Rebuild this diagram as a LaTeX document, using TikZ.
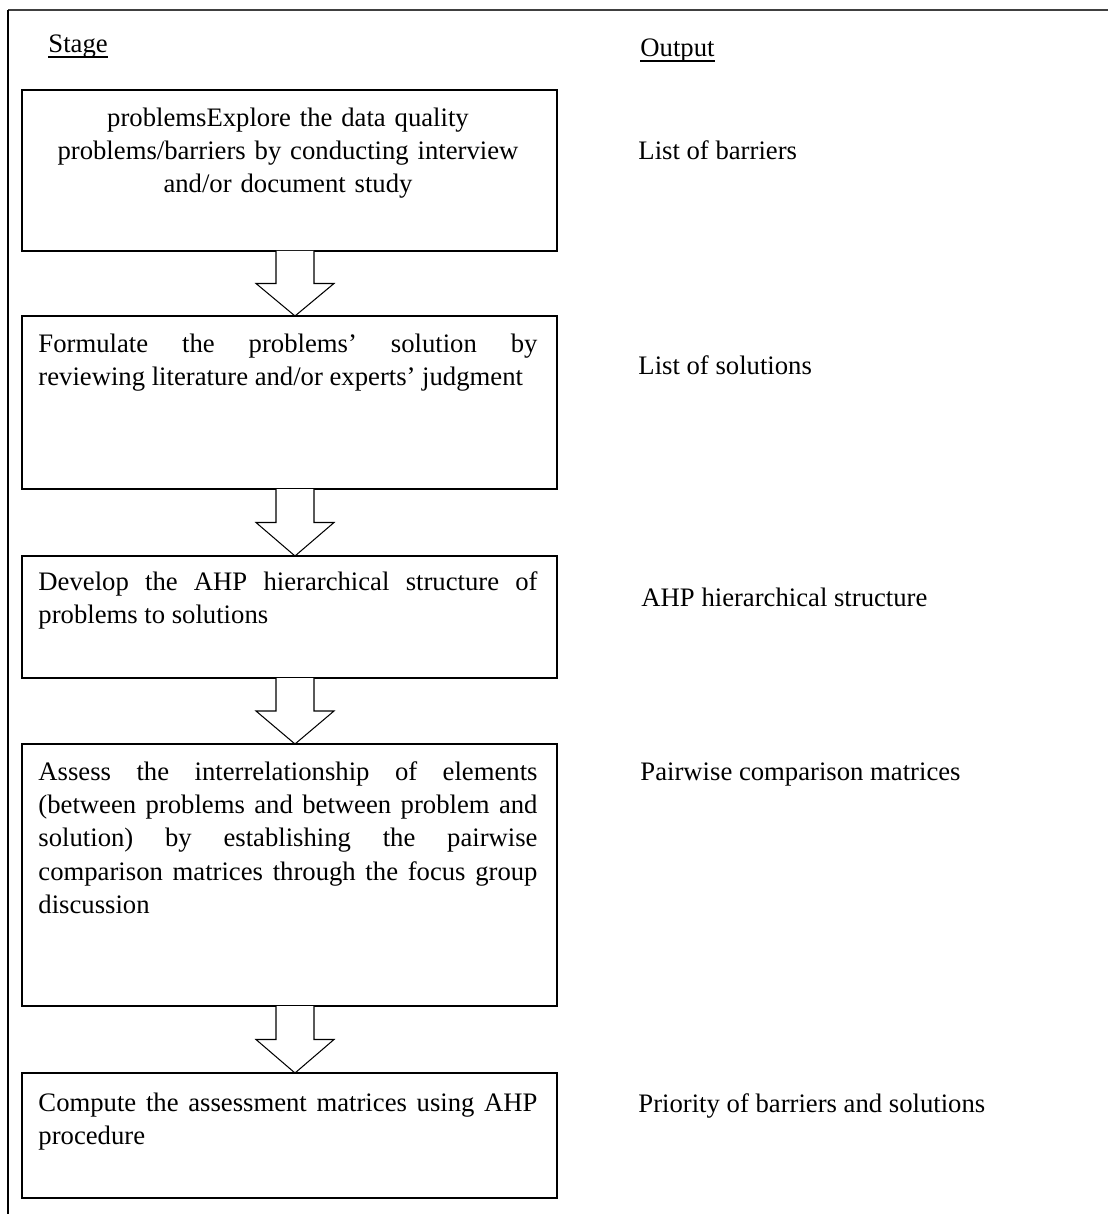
\documentclass[tikz,border=0pt]{standalone}
\usepackage{fontspec}
\setmainfont{Liberation Serif}
\usetikzlibrary{calc}
\usetikzlibrary{positioning}

\tikzset{
  stagebox/.style={draw, line width=0.85pt, rectangle, inner sep=0pt, outer sep=0pt,
    anchor=north west, minimum width=535*0.4348pt, minimum height=#1*0.4348pt},
  stagetext/.style={anchor=north west, inner sep=0pt, text width=217pt, align=justify,
    execute at begin node={\hyphenpenalty=10000\exhyphenpenalty=10000}},
  label/.style={anchor=base west, inner sep=0pt},
  hollowarrow/.style={draw, line width=0.45pt, fill=white, line join=miter}
}

\begin{document}
\begin{tikzpicture}[x=0.4348pt, y=-0.4348pt,
    font=\fontsize{11.6pt}{14.4pt}\selectfont]
      \path[use as bounding box] (0, 0) rectangle (1108, 1214);

      % frame (cut off at right and bottom)
      \draw[line width=0.9pt, black!75] (8, 10) -- (1108, 10);
      \draw[line width=0.6pt] (8, 10) -- (8, 1214);

      \node[label] (stage) at (48, 53) {Stage};
      \node[label] (output) at (640, 57) {Output};
      \draw[line width=0.45pt] ($(stage.base west)+(0,4)$) -- ($(stage.base east)+(0,4)$);
      \draw[line width=0.45pt] ($(output.base west)+(0,4)$) -- ($(output.base east)+(0,4)$);

      \node[stagebox=161] (s1) at (22, 90) {};
      \node[stagebox=173] (s2) at (22, 316) {};
      \node[stagebox=122] (s3) at (22, 556) {};
      \node[stagebox=262] (s4) at (22, 744) {};
      \node[stagebox=125] (s5) at (22, 1073) {};

      \node[stagetext, align=center] (t1) at ($(s1.north west)+(16,13)$)
        {\strut problemsExplore the data quality\\ problems/barriers by conducting interview\\ and/or document study};
      \node[stagetext] (t2) at ($(s2.north west)+(16,13)$)
        {\strut Formulate the problems’ solution by\linebreak reviewing literature and/or experts’ judgment};
      \node[stagetext] (t3) at ($(s3.north west)+(16,11)$)
        {\strut Develop the AHP hierarchical structure of\linebreak problems to solutions};
      \node[stagetext] (t4) at ($(s4.north west)+(16,13)$)
        {\strut Assess the interrelationship of elements\linebreak
         (between problems and between problem and\linebreak
         solution) by establishing the pairwise\linebreak
         comparison matrices through the focus group\linebreak discussion};
      \node[stagetext] (t5) at ($(s5.north west)+(16,15)$)
        {\strut Compute the assessment matrices using AHP\linebreak procedure};

      \node[label] (o1) at (638, 160) {List of barriers};
      \node[label] (o2) at (638, 375) {List of solutions};
      \node[label] (o3) at (641, 606) {AHP hierarchical structure};
      \node[label] (o4) at (640, 780) {Pairwise comparison matrices};
      \node[label] (o5) at (638, 1112) {Priority of barriers and solutions};

      \foreach \a/\b in {s1/s2, s2/s3, s3/s4, s4/s5} {
        \draw[hollowarrow] ($(\a.south west)+(254,0)$)
          |- ($(\a.south west)!0.5!(\b.north west)+(234,0)$)
          -- ($(\b.north west)+(273,0)$)
          -- ($(\a.south west)!0.5!(\b.north west)+(312,0)$)
          -- ++(-20,0) -- ($(\a.south west)+(292,0)$);
      }
    \end{tikzpicture}
\end{document}
